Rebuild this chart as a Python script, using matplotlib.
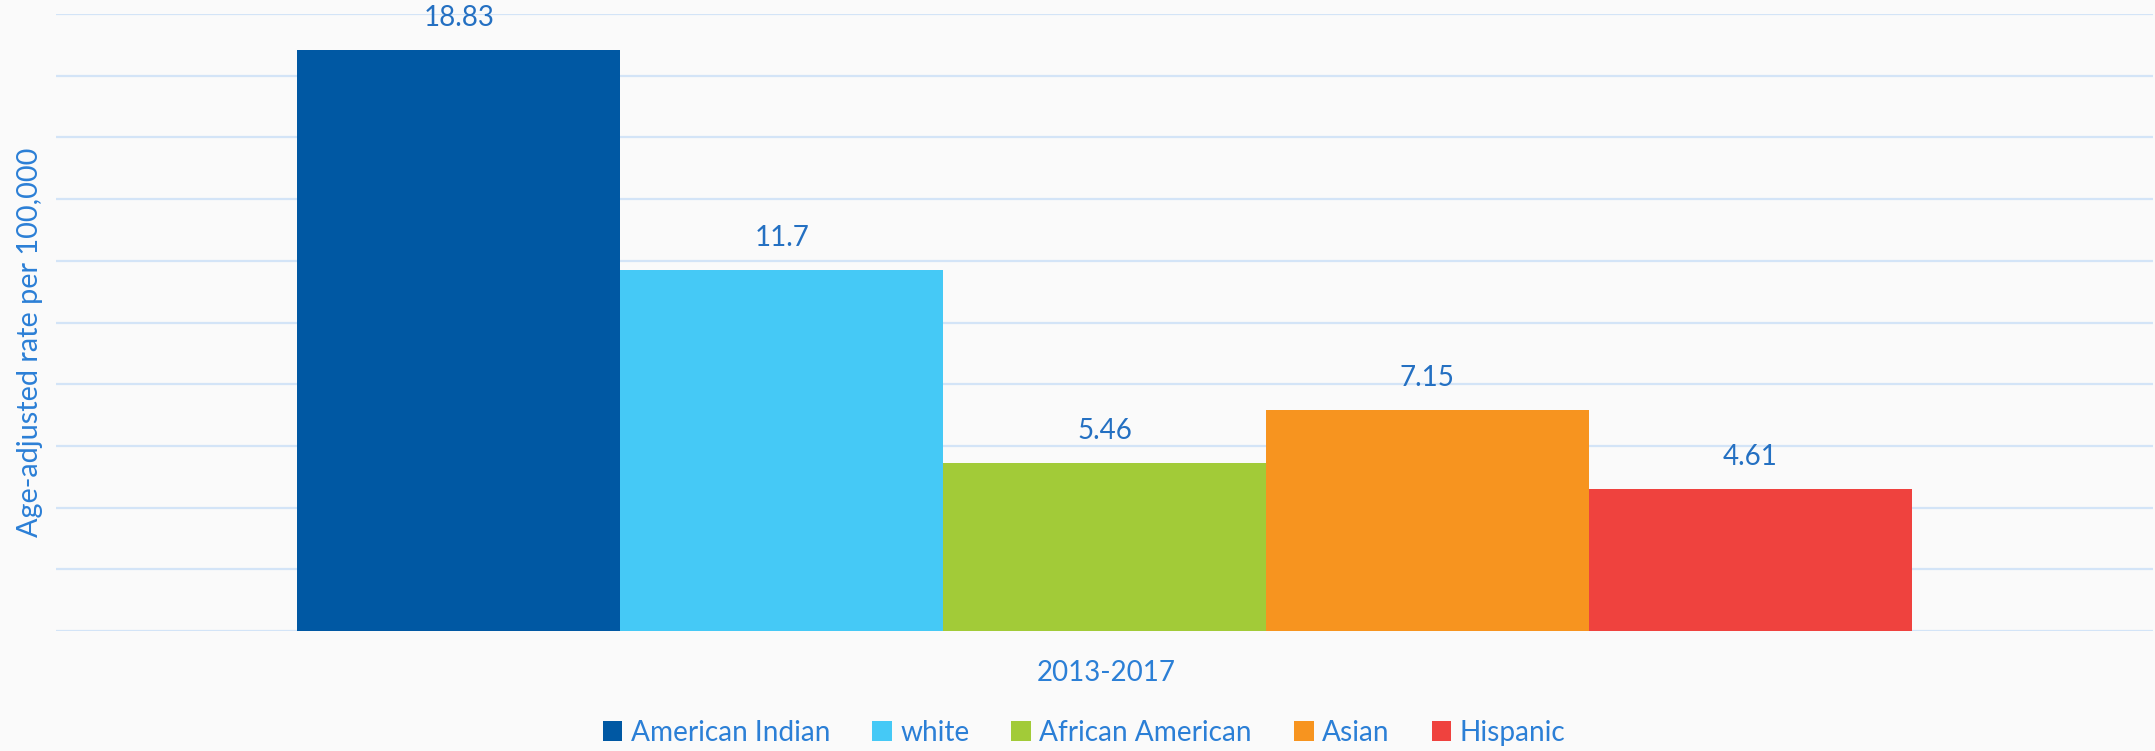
import matplotlib
matplotlib.use('Agg')
import matplotlib.pyplot as plt
from matplotlib.patches import Patch

# data
groups = ['American Indian', 'white', 'African American', 'Asian', 'Hispanic']
rates = [18.83, 11.7, 5.46, 7.15, 4.61]
rate_labels = ['18.83', '11.7', '5.46', '7.15', '4.61']
period = '2013-2017'
colors = ['#0058a3', '#45c9f6', '#a2cb38', '#f7941f', '#ef423e']

plt.rcParams['font.family'] = ['Lato', 'DejaVu Sans']
txt = '#2b7fd6'
bg = '#fafafa'

fig = plt.figure(figsize=(21.55, 7.51), dpi=100, facecolor=bg)
ax = fig.add_axes([56 / 2155, 1 - 631 / 751, 2097 / 2155, 617 / 751])
ax.set_facecolor(bg)

xs = list(range(len(groups)))
bars = ax.bar(xs, rates, width=1.0, color=colors, zorder=3)
for b, lab in zip(bars, rate_labels):
    ax.annotate(lab, (b.get_x() + b.get_width() / 2, b.get_height()),
                xytext=(0, 19), textcoords='offset pixels',
                ha='center', va='bottom', fontsize=20, color='#2470c2')

ax.set_ylim(0, 20)
ax.set_yticks(range(0, 21, 2))
ax.set_xlim(-1.248, 5.248)
ax.grid(axis='y', color='#d3e4f7', linewidth=1.6, zorder=0)
ax.tick_params(left=False, bottom=False, labelleft=False, labelbottom=False)
for s in ax.spines.values():
    s.set_visible(False)

# y label
fig.text(30 / 2155, 1 - 342 / 751, 'Age-adjusted rate per 100,000', rotation=90,
         ha='center', va='center', fontsize=20.8, color=txt)

fig.text(1106 / 2155, 1 - 673 / 751, period, ha='center', va='center',
         fontsize=20, color=txt)

handles = [Patch(facecolor=c, edgecolor='none') for c in colors]
leg = fig.legend(handles, groups, loc='center', bbox_to_anchor=(1084 / 2155, 1 - 733 / 751),
                 ncol=5, frameon=False, fontsize=20.2, handlelength=0.7, handleheight=0.7,
                 handletextpad=0.3, columnspacing=1.5, borderaxespad=0)
for t in leg.get_texts():
    t.set_color(txt)

fig.savefig('out.png', dpi=100, facecolor=bg)
